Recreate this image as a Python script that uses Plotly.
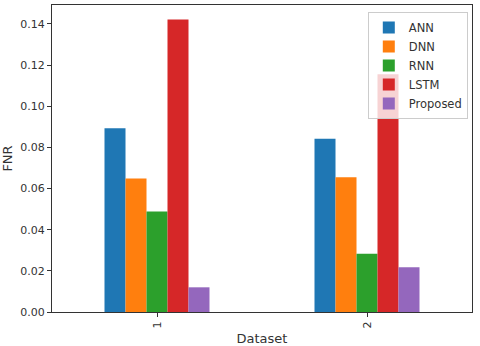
import plotly.graph_objects as go

# FNR per model on each dataset
datasets = ["1", "2"]
models = ["ANN", "DNN", "RNN", "LSTM", "Proposed"]
ann = [0.0893, 0.0842]
dnn = [0.0649, 0.0655]
rnn = [0.0488, 0.0283]
lstm = [0.1421, 0.1156]
proposed = [0.0120, 0.0218]

colors = ["#1f77b4", "#ff7f0e", "#2ca02c", "#d62728", "#9467bd"]
series = [ann, dnn, rnn, lstm, proposed]

fig = go.Figure()
for name, vals, c in zip(models, series, colors):
    fig.add_trace(go.Bar(x=datasets, y=vals, name=name, marker_color=c,
                         marker_line_width=0))

axis_style = dict(showline=True, linecolor="#333333", linewidth=1, mirror=True,
                  ticks="outside", ticklen=4, tickcolor="#333333", showgrid=False,
                  zeroline=False, automargin=False,
                  tickfont=dict(size=11, color="#333333"))

fig.update_layout(
    width=480, height=346,
    margin=dict(l=52, r=8, t=5, b=34),
    paper_bgcolor="white", plot_bgcolor="white",
    font=dict(family="DejaVu Sans", size=11, color="#333333"),
    barmode="group", bargap=0.5, bargroupgap=0,
    legend=dict(x=0.99, y=0.977, xanchor="right", yanchor="top",
                bgcolor="rgba(255,255,255,0.8)", bordercolor="#cccccc",
                borderwidth=1, font=dict(size=11.5), tracegroupgap=0,
                itemwidth=30),
)
fig.update_xaxes(axis_style, title=dict(text="Dataset", standoff=6),
                 tickangle=-90, range=[-0.5, 1.5])
fig.update_yaxes(axis_style, title=dict(text="FNR", standoff=6),
                 range=[0, 0.1492], tickformat=".2f", dtick=0.02)

fig.write_html("out.html", config={"displayModeBar": False},
               post_script="document.body.style.margin='0';")
